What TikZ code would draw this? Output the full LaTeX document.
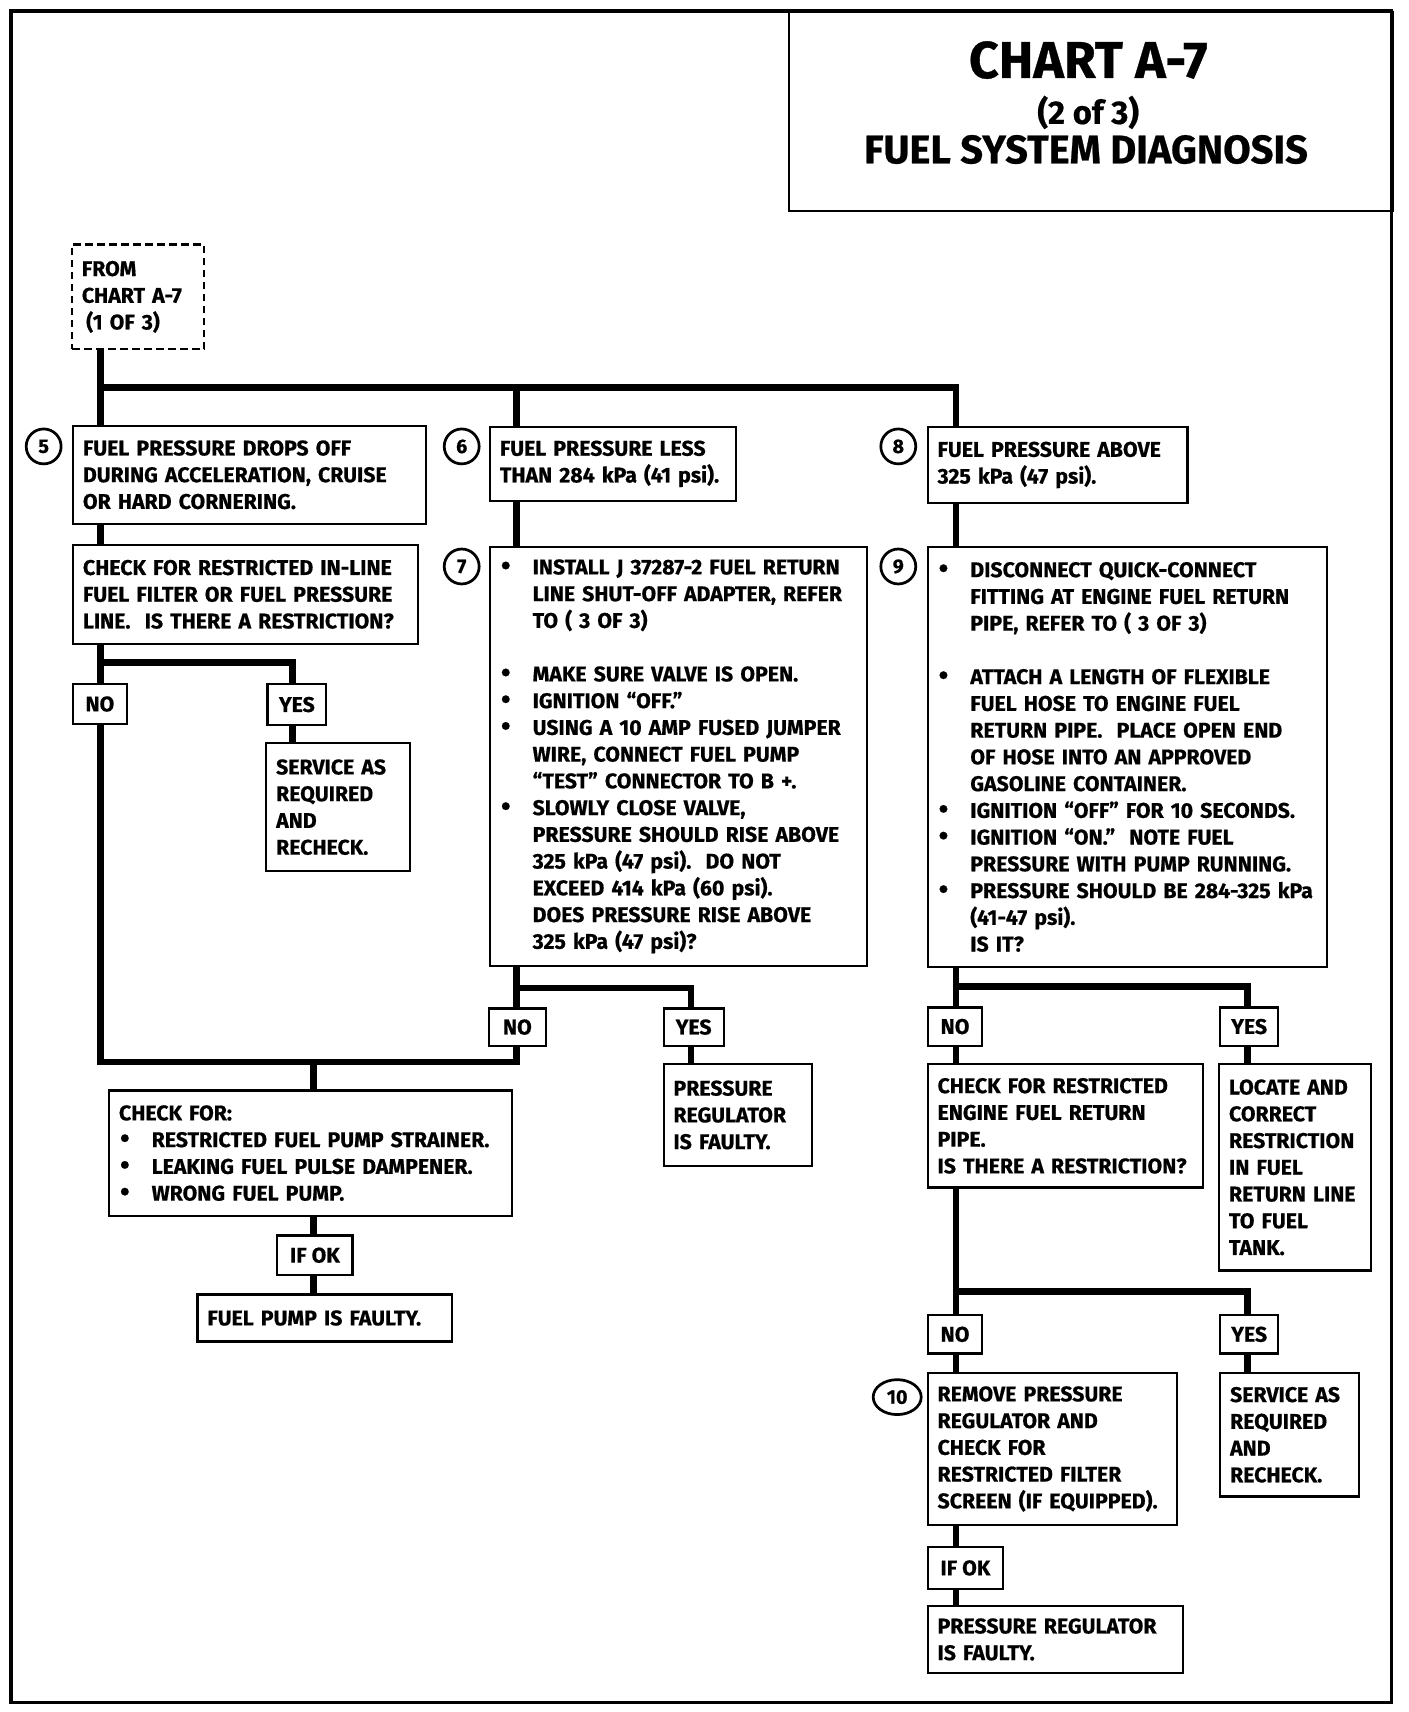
\documentclass[tikz,border=0pt]{standalone}
\usepackage{fontspec}
\setmainfont{Fira Sans}[BoldFeatures={FakeBold=0.6}]
\usetikzlibrary{shapes.geometric}
\newcommand\bul{\makebox[30pt][l]{\hspace*{1pt}\raisebox{-0.5pt}{\scalebox{1.3}{•}}}}
\newcommand\ind{\hspace*{30pt}}
\begin{document}
\begin{tikzpicture}[x=1pt,y=-1pt,
  txt/.style={font=\bfseries\fontsize{19.5}{24.5}\selectfont},
  box/.style={draw, line width=2pt, fill=white, anchor=north west, inner xsep=9pt, inner ysep=0pt, align=left, txt},
  wh/.style n args={3}{minimum width=#1pt, minimum height=#2pt, text width=#3pt},
  lab/.style={draw, line width=2pt, fill=white, anchor=north west, inner sep=0pt, align=center, txt},
  lwh/.style 2 args={minimum width=#1pt, minimum height=#2pt},
  conn/.style={line width=6pt},
  num/.style={draw, circle, line width=2.5pt, minimum size=32pt, inner sep=0pt, font=\bfseries\fontsize{18}{18}\selectfont},
  ttl/.style={font=\bfseries\fontsize{#1}{#1}\selectfont, inner sep=0pt}]
\useasboundingbox (0,0) rectangle (1290,1568.5);
\draw[line width=3pt] (10,10) rectangle (1275,1560);
% title
\node[draw, line width=2pt, anchor=north west, minimum width=553pt, minimum height=182pt, inner sep=0pt] (title) at (722,10) {};
\node[ttl=47.5] (t1) at (997,55) {CHART A-7};
\node[ttl=30] (t2) at (997,103) {(2 of 3)};
\node[ttl=36.5] (t3) at (995,137) {FUEL SYSTEM DIAGNOSIS};
% from
\node[box, dashed, dash pattern=on 7pt off 4pt, wh={121}{96}{103}] (from) at (65,223) {FROM\\CHART A-7\\\hspace*{4pt}(1 OF 3)};
% left column
\node[box, wh={323}{90}{305}] (b5) at (66,389) {FUEL PRESSURE DROPS OFF\\DURING ACCELERATION, CRUISE\\OR HARD CORNERING.};
\node[box, wh={316}{91}{298}] (c1) at (66,498) {CHECK FOR RESTRICTED IN-LINE\\FUEL FILTER OR FUEL PRESSURE\\LINE.\ \ IS THERE A RESTRICTION?};
\node[lab, lwh={49}{36}] (no1) at (66,626) {NO};
\node[lab, lwh={54}{37}] (yes1) at (244,626) {YES};
\node[box, wh={132}{117}{114}] (svc1) at (243,680) {SERVICE AS\\REQUIRED\\AND\\RECHECK.};
% middle column
\node[box, wh={225}{68}{207}] (b6) at (448,390) {FUEL PRESSURE LESS\\THAN 284 kPa (41 psi).};
\node[box, wh={345}{384}{327}] (b7) at (448,500) {\bul INSTALL J 37287-2 FUEL RETURN\\
\ind LINE SHUT-OFF ADAPTER, REFER\\
\ind TO ( 3 OF 3)\\
\mbox{}\\
\bul MAKE SURE VALVE IS OPEN.\\
\bul IGNITION “OFF.”\\
\bul USING A 10 AMP FUSED JUMPER\\
\ind WIRE, CONNECT FUEL PUMP\\
\ind “TEST” CONNECTOR TO B +.\\
\bul SLOWLY CLOSE VALVE,\\
\ind PRESSURE SHOULD RISE ABOVE\\
\ind 325 kPa (47 psi).\ \ DO NOT\\
\ind EXCEED 414 kPa (60 psi).\\
\ind DOES PRESSURE RISE ABOVE\\
\ind 325 kPa (47 psi)?};
\node[lab, lwh={52}{34}] (no2) at (447,923) {NO};
\node[lab, lwh={55}{34}] (yes2) at (607,923) {YES};
\node[box, wh={136}{93}{118}] (reg1) at (607,974) {PRESSURE\\REGULATOR\\IS FAULTY.};
\node[box, wh={369}{115}{351}] (chk2) at (99,998) {CHECK FOR:\\
\bul RESTRICTED FUEL PUMP STRAINER.\\
\bul LEAKING FUEL PULSE DAMPENER.\\
\bul WRONG FUEL PUMP.};
\node[lab, lwh={69}{36}] (ifok1) at (253,1131) {IF OK};
\node[box, wh={233}{43}{215}] (pump) at (180,1185) {FUEL PUMP IS FAULTY.};
% right column
\node[box, wh={238}{70}{220}] (b8) at (849,390) {FUEL PRESSURE ABOVE\\325 kPa (47 psi).};
\node[box, wh={366}{385}{348}] (b9) at (849,500) {\bul DISCONNECT QUICK-CONNECT\\
\ind FITTING AT ENGINE FUEL RETURN\\
\ind PIPE, REFER TO ( 3 OF 3)\\
\mbox{}\\
\bul ATTACH A LENGTH OF FLEXIBLE\\
\ind FUEL HOSE TO ENGINE FUEL\\
\ind RETURN PIPE.\ \ PLACE OPEN END\\
\ind OF HOSE INTO AN APPROVED\\
\ind GASOLINE CONTAINER.\\
\bul IGNITION “OFF” FOR 10 SECONDS.\\
\bul IGNITION “ON.”\ \ NOTE FUEL\\
\ind PRESSURE WITH PUMP RUNNING.\\
\bul PRESSURE SHOULD BE 284-325 kPa\\
\ind (41-47 psi).\\
\ind IS IT?};
\node[lab, lwh={50}{35}] (no3) at (849,922) {NO};
\node[lab, lwh={53}{35}] (yes3) at (1117,922) {YES};
\node[box, wh={252}{113}{234}] (chk3) at (849,974) {CHECK FOR RESTRICTED\\ENGINE FUEL RETURN\\PIPE.\\IS THERE A RESTRICTION?};
\node[box, wh={139}{189}{121}] (loc) at (1116,974) {LOCATE AND\\CORRECT\\RESTRICTION\\IN FUEL\\RETURN LINE\\TO FUEL\\TANK.};
\node[lab, lwh={50}{35}] (no4) at (849,1204) {NO};
\node[lab, lwh={53}{35}] (yes4) at (1117,1204) {YES};
\node[box, wh={228}{139}{210}] (b10) at (849,1257) {REMOVE PRESSURE\\REGULATOR AND\\CHECK FOR\\RESTRICTED FILTER\\SCREEN (IF EQUIPPED).};
\node[box, wh={127}{113}{109}] (svc2) at (1117,1257) {SERVICE AS\\REQUIRED\\AND\\RECHECK.};
\node[lab, lwh={69}{39}] (ifok2) at (849,1416) {IF OK};
\node[box, wh={234}{62}{216}] (reg2) at (849,1470) {PRESSURE REGULATOR\\IS FAULTY.};
% numbers
\node[num] (n5) at (40,409) {5};
\node[num] (n6) at (423,409) {6};
\node[num] (n8) at (823,409) {8};
\node[num] (n7) at (423,519) {7};
\node[num] (n9) at (823,519) {9};
\node[num, ellipse, minimum width=44pt, minimum height=32pt] (n10) at (822,1280) {10};
% connectors
\coordinate (jL) at (92,355);
\coordinate (jM) at (473,355);
\coordinate (jR) at (876,355);
\coordinate (k1) at (268,607);
\coordinate (k2) at (287,973);
\coordinate (k3) at (633,905);
\coordinate (k4) at (1143,904);
\coordinate (k5) at (1143,1183);
\draw[conn] (from.south -| jL) -- (jL) -- (jR) -- (b8.north -| jR);
\draw[conn] (jL) -- (b5.north -| jL);
\draw[conn] (jM) -- (b6.north -| jM);
\draw[conn] (b5.south -| jL) -- (c1.north -| jL);
\draw[conn] (c1.south -| jL) -- (no1.north -| jL);
\draw[conn] (jL |- k1) -- (k1) -- (yes1.north -| k1);
\draw[conn] (yes1.south -| k1) -- (svc1.north -| k1);
\draw[conn] (no1.south -| jL) -- (jL |- k2) -- (jM |- k2) -- (no2.south -| jM);
\draw[conn] (k2) -- (chk2.north -| k2);
\draw[conn] (b6.south -| jM) -- (b7.north -| jM);
\draw[conn] (b7.south -| jM) -- (no2.north -| jM);
\draw[conn] (jM |- k3) -- (k3) -- (yes2.north -| k3);
\draw[conn] (yes2.south -| k3) -- (reg1.north -| k3);
\draw[conn] (chk2.south -| k2) -- (ifok1.north -| k2);
\draw[conn] (ifok1.south -| k2) -- (pump.north -| k2);
\draw[conn] (b8.south -| jR) -- (b9.north -| jR);
\draw[conn] (b9.south -| jR) -- (no3.north -| jR);
\draw[conn] (jR |- k4) -- (k4) -- (yes3.north -| k4);
\draw[conn] (yes3.south -| k4) -- (loc.north -| k4);
\draw[conn] (no3.south -| jR) -- (chk3.north -| jR);
\draw[conn] (chk3.south -| jR) -- (no4.north -| jR);
\draw[conn] (jR |- k5) -- (k5) -- (yes4.north -| k5);
\draw[conn] (yes4.south -| k5) -- (svc2.north -| k5);
\draw[conn] (no4.south -| jR) -- (b10.north -| jR);
\draw[conn] (b10.south -| jR) -- (ifok2.north -| jR);
\draw[conn] (ifok2.south -| jR) -- (reg2.north -| jR);
\end{tikzpicture}
\end{document}
